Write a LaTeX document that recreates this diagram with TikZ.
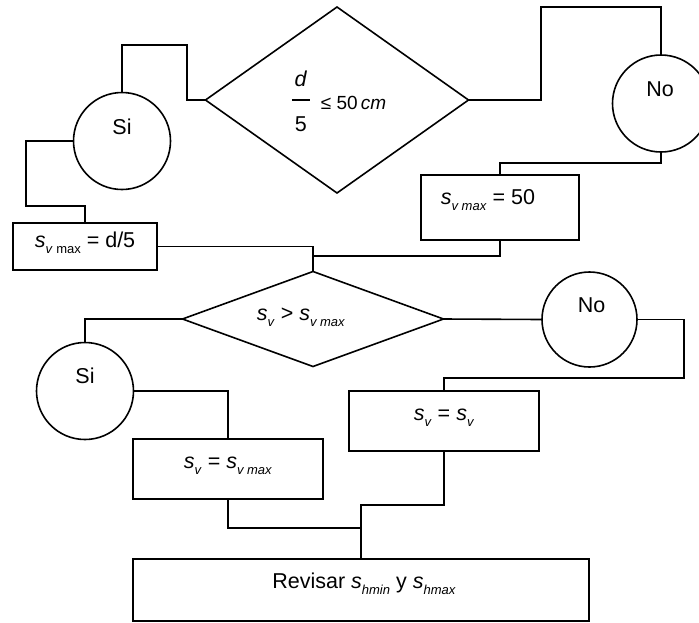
\documentclass[tikz,border=0pt]{standalone}
\usepackage{fontspec}
\setmainfont{Liberation Sans}
\usetikzlibrary{shapes.geometric}
\newcommand{\sub}[1]{\raisebox{-0.28em}{\fontsize{13}{13}\selectfont #1}}
\newcommand{\sv}{\textit{s}\sub{\textit{v}}}

\begin{document}
\begin{tikzpicture}[x=1pt, y=-1pt, line width=1.6pt,
    font=\fontsize{21.5}{25}\selectfont,
    decision/.style={draw, diamond, inner sep=0pt, outer sep=0pt},
    answer/.style={draw, circle, inner sep=0pt, outer sep=0pt, minimum size=97pt},
    process/.style={draw, rectangle, inner sep=0pt, outer sep=0pt}]
  \useasboundingbox (0,0) rectangle (699,622);
  % first test
  \node[decision, minimum width=263pt, minimum height=186pt,
    label={[xshift=2pt, yshift=-4pt]center:{%
      \begin{tabular}{@{}c@{}}\textit{d}\\[-11pt]\rule{18pt}{1.2pt}\\[6pt]5\end{tabular}%
      {\fontsize{19}{21}\selectfont\hspace{11pt}≤ 50\,\textit{cm}}}}] (dtest) at (337,100) {};
  \node[answer, label={[yshift=14pt]center:Si}] (si1) at (122,141) {};
  \node[answer, label={[xshift=-1pt, yshift=14pt]center:No}] (no1) at (661,103.5) {};
  \node[process, minimum width=144pt, minimum height=47pt,
    label={[yshift=4pt]center:{\textit{s}\sub{\textit{v} max} = d/5}}] (sdiv) at (85,246.5) {};
  \node[process, minimum width=158pt, minimum height=65pt,
    label={[xshift=-12pt, yshift=7pt]center:{\textit{s}\sub{\textit{v max}} = 50}}] (sfix) at (500,207.5) {};
  % second test
  \node[decision, minimum width=261pt, minimum height=95pt,
    label={[xshift=-12pt, yshift=2pt]center:{\sv{} > \textit{s}\sub{\textit{v max}}}}] (dcomp) at (313,319) {};
  \node[answer, label={[yshift=15pt]center:Si}] (si2) at (85,391) {};
  \node[answer, minimum size=95pt, label={[xshift=2pt, yshift=14pt]center:No}] (no2) at (589.5,319.5) {};
  \node[process, minimum width=190pt, minimum height=60pt,
    label={[yshift=3pt]center:{\sv{} = \textit{s}\sub{\textit{v max}}}}] (slim) at (228,469) {};
  \node[process, minimum width=190pt, minimum height=60pt,
    label={[yshift=3pt]center:{\sv{} = \sv}}] (skeep) at (444,421) {};
  \node[process, minimum width=456pt, minimum height=62pt,
    label={[xshift=3pt, yshift=6pt]center:{Revisar \textit{s}\sub{\textit{hmin}} y \textit{s}\sub{\textit{hmax}}}}] (check) at (361,590) {};
  \coordinate (join1) at (dcomp.north |- 0,256);
  \coordinate (join2) at (check.north |- 0,528);
  \draw (si1.north) |- (187,45) |- (dtest.west);
  \draw (si1.west) -| (26,206) -| (sdiv.north);
  \draw (dtest.east) -| (541,7) -| (no1.north);
  \draw (no1.south) -- ++(0,11) -| (sfix.north);
  \draw (sdiv.east) -| (dcomp.north);
  \draw (sfix.south) |- (join1);
  \draw (dcomp.west) -| (si2.north);
  \draw (dcomp.east) -- (no2.west);
  \draw (si2.east) -| (slim.north);
  \draw (no2.east) -| (684,378) -| (skeep.north);
  \draw (slim.south) |- (join2);
  \draw (skeep.south) -- ++(0,54) -| (check.north);
\end{tikzpicture}
\end{document}
